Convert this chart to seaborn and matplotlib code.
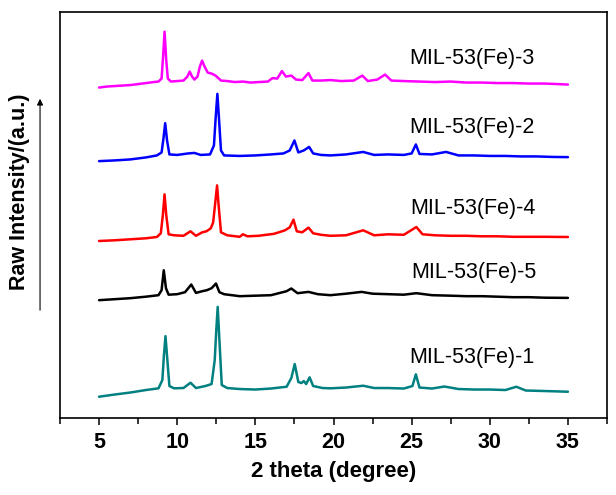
import numpy as np
import pandas as pd
import matplotlib
matplotlib.use("Agg")
import matplotlib.pyplot as plt
from matplotlib.ticker import MultipleLocator
import seaborn as sns

# XRD patterns, stacked (values already include the vertical offset)
tt_fe3 = [5.0, 5.5, 6.0, 6.5, 7.0, 7.5, 8.0, 8.5, 8.8, 9.0, 9.1, 9.19, 9.3, 9.4, 9.6, 10.0, 10.4,
          10.65, 10.8, 10.95, 11.1, 11.3, 11.45, 11.59, 11.75, 11.95, 12.2, 12.45, 12.8, 13.2, 13.7,
          14.2, 14.7, 15.2, 15.8, 16.1, 16.4, 16.7, 16.95, 17.3, 17.6, 18.0, 18.4, 18.65, 19.2, 19.8,
          20.5, 21.3, 21.84, 22.2, 22.8, 23.3, 23.7, 24.5, 25.5, 26.5, 27.5, 28.5, 29.5, 30.5, 31.5,
          32.5, 33.5, 34.3, 35.0]
int_fe3 = [331, 332, 332.5, 333, 333.5, 334.5, 335.5, 336.5, 337, 340, 363, 387, 358, 340, 337, 337.5, 338,
           342, 347, 342, 339, 342, 352, 358, 352, 346, 345, 343, 338, 337.5, 336.5,
           337, 336, 336.5, 337, 340.5, 340, 347.5, 342, 343, 339, 338.5, 345.5, 338, 338, 338.5,
           337.5, 338, 343, 337.5, 339, 344, 338, 337.5, 337, 336.5, 337, 336, 336, 335.5, 335.5,
           335, 335, 334.5, 334]

tt_fe2 = [5.0, 6.0, 7.0, 8.0, 8.7, 9.0, 9.12, 9.23, 9.35, 9.5, 10.0, 10.7, 11.1, 11.5, 12.1, 12.35,
          12.47, 12.57, 12.68, 12.8, 13.0, 14.0, 15.0, 16.0, 16.8, 17.2, 17.5, 17.75, 18.1, 18.44,
          18.7, 19.2, 19.8, 20.8, 21.9, 22.6, 23.5, 24.5, 25.0, 25.27, 25.5, 26.3, 27.2, 28.0, 29.0,
          30.0, 31.0, 32.0, 33.0, 34.0, 35.0]
int_fe2 = [257.3, 258, 259, 261, 263, 266, 280, 295.3, 278, 264, 263.5, 265, 265.5, 263.5, 264, 273,
           303, 324.7, 298, 268, 263, 262.5, 263, 264, 265, 268, 278, 266, 268, 271.5,
           265, 263.5, 263, 264, 266.5, 263.5, 264, 263.5, 265, 274, 264.5, 264, 266.5, 263, 263,
           262.5, 262.5, 262, 262, 261.5, 261.3]

tt_fe4 = [5.0, 6.0, 7.0, 8.0, 8.7, 8.95, 9.08, 9.19, 9.3, 9.45, 9.8, 10.4, 10.85, 11.2, 11.6, 11.87,
          12.15, 12.3, 12.45, 12.55, 12.65, 12.8, 13.2, 14.0, 14.2, 14.5, 15.2, 16.2, 16.9, 17.2,
          17.44, 17.65, 18.0, 18.4, 18.7, 19.2, 19.8, 20.8, 21.9, 22.6, 23.5, 24.5, 25.3, 25.7, 26.5,
          27.5, 28.5, 29.5, 30.5, 31.5, 32.5, 33.5, 35.0]
int_fe4 = [177.3, 178, 179, 180, 181.3, 185, 203, 224, 203, 184, 183, 182.5, 187, 182.5, 186, 187,
           190, 196, 218, 233, 213, 186, 183, 181.5, 184, 182, 182.5, 184.5, 188, 191,
           198.7, 187, 186, 190.7, 185, 183.5, 182.5, 183, 188, 183, 184, 183.5, 191.3, 184, 183,
           182.5, 182.5, 182, 182, 181.5, 181.5, 181.5, 181.3]

tt_fe5 = [5.0, 6.0, 7.0, 8.0, 8.8, 9.0, 9.14, 9.28, 9.45, 10.0, 10.5, 10.9, 11.2, 11.6, 11.9, 12.2,
          12.48, 12.7, 13.0, 14.0, 15.0, 16.0, 17.0, 17.3, 17.7, 18.4, 19.0, 19.8, 20.8, 21.8, 22.5,
          23.5, 24.5, 25.3, 26.3, 27.5, 28.5, 29.5, 30.5, 31.5, 32.5, 33.5, 35.0]
int_fe5 = [118, 119, 120, 121.5, 123, 128, 148, 130, 123.5, 124, 126, 133.7, 125.3, 127, 128, 130,
           134.7, 126, 124, 122, 122.5, 123, 127, 129.7, 125, 126.3, 124, 123, 124.5, 126.3, 124.5,
           124, 123.5, 125, 123, 122.5, 122, 122, 121.5, 121, 121, 120.5, 120.3]

tt_fe1 = [5.0, 6.0, 7.0, 8.0, 8.8, 9.05, 9.15, 9.25, 9.37, 9.5, 9.8, 10.4, 10.85, 11.2, 11.8, 12.2,
          12.4, 12.5, 12.59, 12.7, 12.85, 13.2, 14.0, 15.0, 16.0, 17.0, 17.3, 17.52, 17.75, 17.95,
          18.1, 18.25, 18.47, 18.7, 19.3, 19.8, 20.8, 21.9, 22.6, 23.5, 24.5, 25.05, 25.27, 25.5,
          26.3, 27.1, 28.0, 29.0, 30.0, 31.0, 31.7, 32.3, 33.5, 35.0]
int_fe1 = [21.3, 23.5, 25.5, 28, 29.7, 38, 63, 82, 58, 32, 29.7, 30, 35.3, 30, 32, 34,
           58, 88, 111.3, 78, 33, 30, 29, 28.5, 29.5, 31.3, 40, 54, 36, 35,
           37, 34, 40.7, 32, 30, 29.7, 30.5, 32.3, 30, 30, 29.5, 32, 43.7, 30.5,
           29.5, 31.5, 29, 28.5, 28.5, 28, 31.3, 27.5, 27, 26.3]

samples = ["MIL-53(Fe)-3", "MIL-53(Fe)-2", "MIL-53(Fe)-4", "MIL-53(Fe)-5", "MIL-53(Fe)-1"]
colors = ["#ff00ff", "#0000ff", "#ff0000", "#000000", "#008080"]

frames = []
for name, tt, inten in zip(samples,
                           [tt_fe3, tt_fe2, tt_fe4, tt_fe5, tt_fe1],
                           [int_fe3, int_fe2, int_fe4, int_fe5, int_fe1]):
    frames.append(pd.DataFrame({"tt": tt, "I": inten, "sample": name}))
df = pd.concat(frames, ignore_index=True)

sns.set_style("ticks")
plt.rcParams["font.family"] = ["Liberation Sans", "DejaVu Sans"]
plt.rcParams["text.color"] = "black"
plt.rcParams["axes.labelcolor"] = "black"
plt.rcParams["axes.edgecolor"] = "black"
plt.rcParams["xtick.color"] = "black"

fig = plt.figure(figsize=(6.16, 4.95), dpi=100)
ax = fig.add_axes([0.0974, 0.1556, 0.888, 0.8208])

sns.lineplot(data=df, x="tt", y="I", hue="sample", palette=dict(zip(samples, colors)),
             estimator=None, sort=False, lw=1.8, legend=False, ax=ax)

# sample names next to each pattern
label_x = [28.85, 28.85, 28.9, 29.0, 28.85]
label_y = [360, 291, 210, 146, 61]
for name, lx, ly in zip(samples, label_x, label_y):
    ax.text(lx, ly, name, fontsize=15.5, ha="center", va="center", color="black")

ax.set_xlim(2.5, 37.5)
ax.set_ylim(0, 407)
ax.xaxis.set_major_locator(MultipleLocator(5))
ax.xaxis.set_minor_locator(MultipleLocator(2.5))
ax.set_yticks([])
ax.tick_params(axis="x", which="major", direction="out", length=5, width=1.1, pad=5)
ax.tick_params(axis="x", which="minor", direction="out", length=4, width=1.1)
for lab in ax.get_xticklabels():
    lab.set_fontsize(15.5)
    lab.set_fontweight("bold")
for s in ax.spines.values():
    s.set_linewidth(1.2)
    s.set_color("black")
    s.set_visible(True)

ax.set_xlabel("2 theta (degree)", fontsize=16, fontweight="bold", labelpad=6)
ax.set_ylabel("")
fig.text(0.032, 0.612, "Raw Intensity/(a.u.)", rotation=90, fontsize=15.5, fontweight="bold",
         ha="center", va="center")
fig.add_artist(matplotlib.patches.FancyArrowPatch((0.065, 1 - 313 / 495), (0.065, 1 - 96 / 495),
                                                  transform=fig.transFigure, arrowstyle="-|>",
                                                  mutation_scale=9, lw=0.8, color="black"))

fig.savefig("out.png", dpi=100)
